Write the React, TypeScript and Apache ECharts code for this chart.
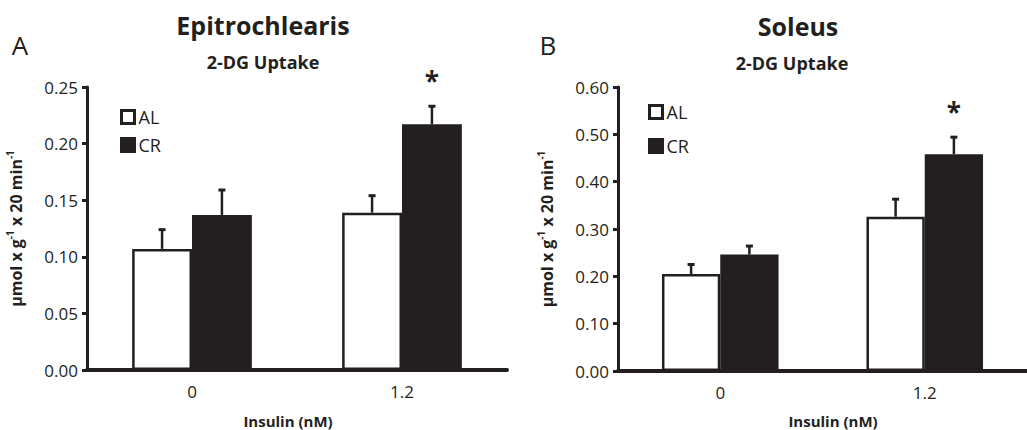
import React, { useEffect, useRef } from "react";
import * as echarts from "echarts";

const categories = ["0", "1.2"];
const seriesNames = ["AL", "CR"];

// Epitrochlearis
const epiAL = [0.107, 0.139];
const epiCR = [0.137, 0.217];
const epiALerr = [0.017, 0.015];
const epiCRerr = [0.022, 0.016];
const epiSig = ["", "*"];

// Soleus
const solAL = [0.205, 0.326];
const solCR = [0.246, 0.458];
const solALerr = [0.020, 0.037];
const solCRerr = [0.018, 0.036];
const solSig = ["", "*"];

const epiTicks = { max: 0.25, interval: 0.05 };
const solTicks = { max: 0.6, interval: 0.1 };

const INK = "#231f20";
const FONT = "'Open Sans', Lato, sans-serif";
const GAP_FRAC = 0.43;

function errSeries(gridIdx: number, al: number[], cr: number[], alE: number[], crE: number[], sig: string[]) {
  const data = categories.map((_, i) => [i, al[i], alE[i], cr[i], crE[i], sig[i]]);
  return {
    type: "custom",
    xAxisIndex: gridIdx,
    yAxisIndex: gridIdx,
    z: 5,
    silent: true,
    data,
    renderItem: (params: any, api: any) => {
      const i = api.value(0);
      const catW = api.size([1, 0])[0];
      const bw = (catW * (1 - GAP_FRAC)) / 2;
      const children: any[] = [];
      const pairs = [
        [api.value(1), api.value(2), -bw / 2],
        [api.value(3), api.value(4), bw / 2],
      ];
      pairs.forEach(([v, e, off]) => {
        const base = api.coord([i, v]);
        const top = api.coord([i, v + e]);
        const x = base[0] + off;
        children.push({
          type: "line",
          shape: { x1: x, y1: base[1], x2: x, y2: top[1] },
          style: { stroke: INK, lineWidth: 2.5 },
        });
        children.push({
          type: "line",
          shape: { x1: x - 3.5, y1: top[1], x2: x + 3.5, y2: top[1] },
          style: { stroke: INK, lineWidth: 3 },
        });
      });
      const s = data[i][5] as string;
      if (s) {
        const crTop = api.coord([i, api.value(3) + api.value(4)]);
        children.push({
          type: "text",
          style: {
            text: s,
            x: crTop[0] + bw / 2,
            y: crTop[1] - 12,
            align: "center",
            verticalAlign: "bottom",
            font: `bold 26px ${FONT}`,
            fill: INK,
          },
        });
      }
      return { type: "group", children };
    },
  };
}

function barSeries(gridIdx: number, name: string, values: number[], fill: string) {
  return {
    type: "bar",
    name,
    xAxisIndex: gridIdx,
    yAxisIndex: gridIdx,
    data: values,
    barGap: "0%",
    barCategoryGap: `${GAP_FRAC * 100}%`,
    itemStyle: { color: fill, borderColor: INK, borderWidth: 2.5 },
    z: 2,
  };
}

function yAxis(gridIdx: number, t: { max: number; interval: number }) {
  return {
    type: "value",
    gridIndex: gridIdx,
    min: 0,
    max: t.max,
    interval: t.interval,
    name: "{a|μmol x g}{s|-1}{a| x 20 min}{s|-1}",
    nameLocation: "middle",
    nameRotate: 90,
    nameGap: 60,
    nameTextStyle: {
      rich: {
        a: { fontFamily: FONT, fontWeight: "bold", fontSize: 16, color: INK, lineHeight: 22 },
        s: { fontFamily: FONT, fontWeight: "bold", fontSize: 10, color: INK, verticalAlign: "top", lineHeight: 22, padding: [0, 0, 9, 0] },
      },
    },
    splitLine: { show: false },
    axisLine: { show: true, lineStyle: { color: INK, width: 3 } },
    axisTick: { show: true, inside: false, length: 5, lineStyle: { color: INK, width: 3 } },
    axisLabel: {
      margin: 9,
      fontFamily: FONT,
      fontSize: 17,
      color: INK,
      formatter: (v: number) => v.toFixed(2),
    },
  };
}

function xAxis(gridIdx: number) {
  return {
    type: "category",
    gridIndex: gridIdx,
    data: categories,
    axisLine: { show: true, lineStyle: { color: INK, width: 4 }, onZero: false },
    axisTick: { show: false },
    axisLabel: { margin: 13, fontFamily: FONT, fontSize: 17, color: INK },
    z: 10,
  };
}

function legend(left: number, top: number, gap: number, names: string[]) {
  return {
    data: names,
    orient: "vertical",
    left,
    top,
    itemWidth: 13,
    itemHeight: 13,
    itemGap: gap,
    icon: "rect",
    itemStyle: { borderWidth: 3 },
    textStyle: { fontFamily: FONT, fontSize: 18, lineHeight: 18, color: INK, padding: [0, 0, 0, -1] },
  };
}

function txt(text: string, x: number, y: number, size: number, bold: boolean) {
  return {
    type: "text",
    x,
    y,
    style: {
      text,
      x: 0,
      y: 0,
      align: "center",
      verticalAlign: "middle",
      font: `${bold ? "bold " : ""}${size}px ${FONT}`,
      fill: INK,
    },
  };
}

export default function App() {
  const ref = useRef<HTMLDivElement>(null);
  useEffect(() => {
    if (!ref.current) return;
    const chart = echarts.init(ref.current, undefined, { renderer: "svg" });
    chart.setOption({
      animation: false,
      backgroundColor: "#ffffff",
      grid: [
        { left: 87, top: 87, width: 420, height: 283 },
        { left: 618, top: 87, width: 420, height: 284 },
      ],
      xAxis: [xAxis(0), xAxis(1)],
      yAxis: [yAxis(0, epiTicks), yAxis(1, solTicks)],
      legend: [legend(115, 103, 10, seriesNames), legend(643, 98, 16, seriesNames)],
      series: [
        barSeries(0, seriesNames[0], epiAL, "#ffffff"),
        barSeries(0, seriesNames[1], epiCR, INK),
        barSeries(1, seriesNames[0], solAL, "#ffffff"),
        barSeries(1, seriesNames[1], solCR, INK),
        errSeries(0, epiAL, epiCR, epiALerr, epiCRerr, epiSig),
        errSeries(1, solAL, solCR, solALerr, solCRerr, solSig),
      ],
      graphic: [
        txt("Epitrochlearis", 263, 25, 25, true),
        txt("Soleus", 798, 26, 25, true),
        txt("2-DG Uptake", 263, 62, 18, true),
        txt("2-DG Uptake", 792, 63, 18, true),
        txt("A", 20, 45, 26, false),
        txt("B", 548, 45, 26, false),
        txt("Insulin (nM)", 288, 421, 15, true),
        txt("Insulin (nM)", 833, 421, 15, true),
      ],
    });
    return () => chart.dispose();
  }, []);
  return <div ref={ref} style={{ width: 1027, height: 430, position: "absolute", left: 0, top: 0 }} />;
}
